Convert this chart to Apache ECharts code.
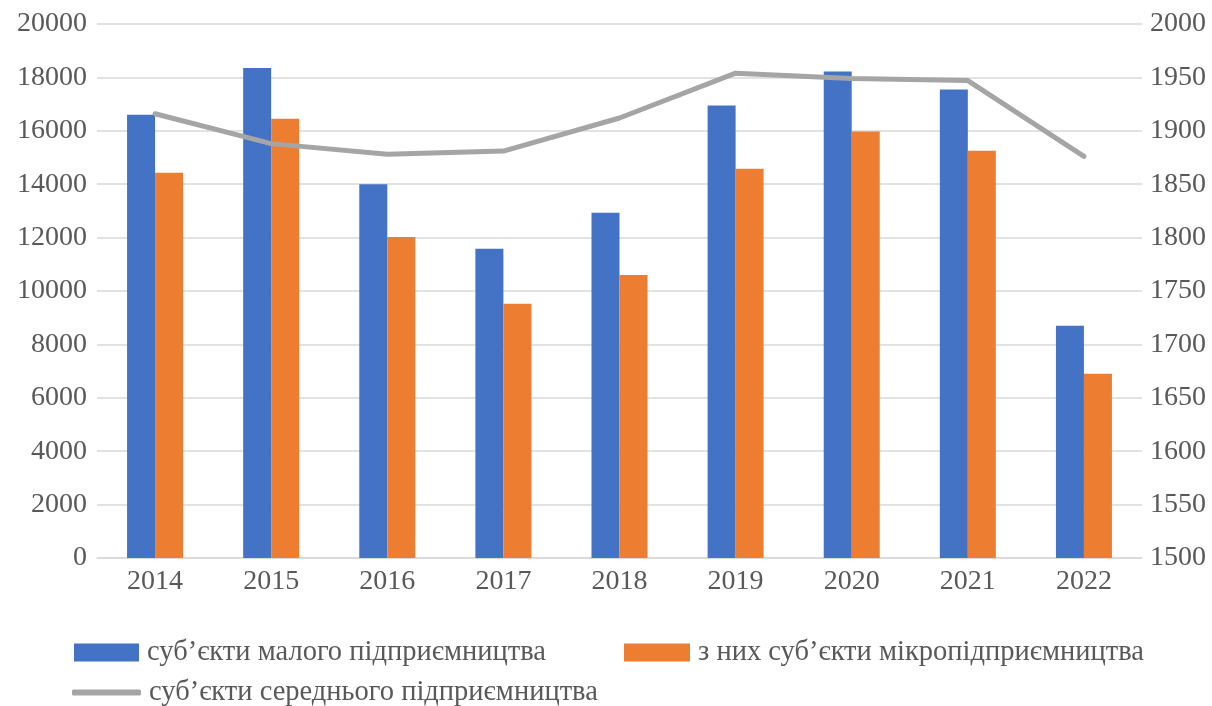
<!DOCTYPE html>
<html><head><meta charset="utf-8">
<script src="https://cdn.jsdelivr.net/npm/echarts@6/dist/echarts.min.js"></script>
<style>html,body{margin:0;padding:0;background:#fff}#c{width:1212px;height:706px}</style>
</head><body><div id="c"></div>
<script>
const years = ['2014','2015','2016','2017','2018','2019','2020','2021','2022'];
const smallEnt = [16600, 18350, 14000, 11580, 12930, 16950, 18220, 17550, 8700];
const microEnt = [14430, 16450, 12020, 9520, 10600, 14580, 15970, 15250, 6900];
const mediumEnt = [1916, 1888, 1878, 1881, 1912, 1954, 1949, 1947, 1876];
const names = ['суб’єкти малого підприємництва', 'з них суб’єкти мікропідприємництва', 'суб’єкти середнього підприємництва'];

const font = '"Liberation Serif", "Times New Roman", serif';
const txt = {fontFamily: font, fontSize: 28, color: '#595959'};
const legTxt = {fontFamily: font, fontSize: 28.5, color: '#595959', padding: [0, 0, 0, 3]};
const plain = v => String(v);
const chart = echarts.init(document.getElementById('c'), null, {renderer: 'canvas'});
chart.setOption({
  animation: false,
  backgroundColor: '#fff',
  textStyle: {fontFamily: font},
  grid: {left: 97, right: 70, top: 24, bottom: 148, containLabel: false},
  legend: [
    {data: [names[0]], left: 74, top: 638, padding: 0, itemWidth: 65, itemHeight: 18, textStyle: legTxt, icon: 'rect'},
    {data: [names[1]], left: 624, top: 638, padding: 0, itemWidth: 66, itemHeight: 18, textStyle: legTxt, icon: 'rect'},
    {data: [{name: names[2], icon: 'roundRect', itemStyle: {color: '#A5A5A5'}}], left: 72, top: 678, padding: 0,
     itemWidth: 69, itemHeight: 6, textStyle: legTxt}
  ],
  xAxis: {
    type: 'category', data: years,
    axisLine: {lineStyle: {color: '#D9D9D9', width: 1.5}},
    axisTick: {show: false},
    axisLabel: {...txt, margin: 10}
  },
  yAxis: [
    {type: 'value', min: 0, max: 20000, interval: 2000,
     axisLine: {show: false}, axisTick: {show: false},
     splitLine: {lineStyle: {color: '#D9D9D9', width: 1.5}},
     axisLabel: {...txt, margin: 10, formatter: plain}},
    {type: 'value', min: 1500, max: 2000, interval: 50,
     axisLine: {show: false}, axisTick: {show: false},
     splitLine: {show: false},
     axisLabel: {...txt, margin: 8, formatter: plain}}
  ],
  series: [
    {name: names[0], type: 'bar', data: smallEnt, barWidth: 28, barGap: '0%', itemStyle: {color: '#4472C4'}},
    {name: names[1], type: 'bar', data: microEnt, barWidth: 28, barGap: '0%', itemStyle: {color: '#ED7D31'}},
    {name: names[2], type: 'line', yAxisIndex: 1, data: mediumEnt, symbol: 'none',
     lineStyle: {color: '#A5A5A5', width: 5, cap: 'round', join: 'round'}, itemStyle: {color: '#A5A5A5'}}
  ]
});
</script></body></html>
